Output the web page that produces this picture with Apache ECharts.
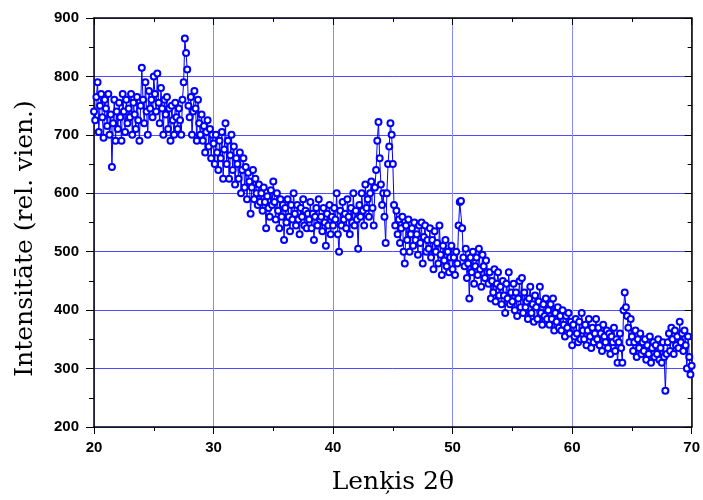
<!DOCTYPE html>
<html>
<head>
<meta charset="utf-8">
<script src="https://cdn.jsdelivr.net/npm/echarts@6/dist/echarts.min.js"></script>
<style>html,body{margin:0;padding:0;background:#fff;}#c{width:703px;height:500px;}</style>
</head>
<body>
<div id="c"></div>
<script>
// 2θ grid of the scan (degrees)
const thetaStart = 20;
const thetaStep = 0.1;
// Intensity, 0.1° apart
const int20to30 = [
 740,725,765,790,705,750,770,730,695,760,
 745,715,770,700,735,645,720,760,690,740,
 710,755,730,690,770,740,705,760,720,745,
 730,770,700,755,735,710,765,725,690,750,
 815,760,720,790,740,700,775,745,760,730,
 800,770,740,805,755,720,780,745,700,760,
 735,765,710,745,690,750,725,700,755,730,
 710,745,725,700,760,790,865,840,812,750,
 730,765,700,740,775,745,690,760,720,700,
 735,690,715,670,705,725,680,710,660,700
];
const int30to40 = [
 685,650,700,670,640,690,660,705,625,675,
 720,650,690,625,665,700,640,680,615,660,
 650,625,670,600,640,660,610,645,590,635,
 620,565,610,640,590,625,600,580,615,585,
 600,570,610,585,540,595,575,560,605,580,
 620,585,555,600,570,540,590,560,580,520,
 575,550,590,560,535,580,555,600,565,545,
 580,555,530,575,560,590,545,570,540,565,
 555,585,540,565,520,560,575,545,590,555,
 560,535,575,550,510,565,545,580,530,560
];
const int40to50 = [
 545,575,555,600,530,500,570,545,585,555,
 565,540,590,560,530,575,550,600,545,570,
 555,505,580,560,600,570,545,615,575,590,
 560,600,620,575,545,610,640,690,722,660,
 615,580,600,560,515,600,650,680,720,700,
 650,580,545,570,530,555,515,540,560,500,
 480,545,520,555,500,530,540,510,550,520,
 530,495,545,515,550,480,525,545,500,520,
 505,540,490,520,470,535,500,515,480,545,
 495,460,510,485,520,475,500,465,490,510
];
const int50to60 = [
 470,490,460,500,480,545,585,587,540,490,
 475,505,455,480,420,490,465,500,445,475,
 490,460,505,470,440,495,475,455,485,465,
 445,465,420,450,430,470,415,445,465,425,
 440,410,450,425,395,445,420,465,410,430,
 415,445,400,430,390,420,450,405,455,395,
 430,405,415,385,420,440,395,410,380,425,
 405,385,415,440,395,375,410,390,420,385,
 400,375,410,385,420,365,395,380,405,370,
 390,365,400,375,355,390,370,395,360,380
];
const int60to70 = [
 340,375,355,385,360,345,380,350,395,365,
 350,375,340,365,385,355,335,370,345,360,
 385,350,370,340,360,330,375,355,345,365,
 335,360,325,355,345,370,330,350,310,345,
 360,335,310,400,430,405,390,370,345,385,
 355,330,345,365,320,350,335,360,325,345,
 330,350,315,340,325,355,310,335,345,320,
 340,325,350,315,335,310,345,320,262,325,
 345,360,330,370,350,325,365,340,355,335,
 380,345,360,330,365,340,300,355,320,290,
 305
];
const xTickMin = 20, xTickMax = 70, xTickStep = 10;
const yTickMin = 200, yTickMax = 900, yTickStep = 100;
const xTitle = 'Lenķis 2θ';
const yTitle = 'Intensitāte (rel. vien.)';

const intensity = [].concat(int20to30, int30to40, int40to50, int50to60, int60to70);
const seriesData = intensity.map((v, i) => [+(thetaStart + i * thetaStep).toFixed(2), v]);

const labelStyle = {color:'#000', fontFamily:'Liberation Sans, Arial, sans-serif', fontWeight:'bold', fontSize:15};
const chart = echarts.init(document.getElementById('c'), null, {renderer:'canvas'});
chart.setOption({
  animation:false,
  backgroundColor:'#fff',
  grid:{left:94, right:9, top:18, bottom:68},
  xAxis:[{
    type:'value', min:xTickMin, max:xTickMax, interval:xTickStep,
    position:'bottom',
    name:xTitle, nameLocation:'middle', nameGap:43,
    nameTextStyle:{fontFamily:'DejaVu Serif, serif', fontSize:25, color:'#000'},
    axisLine:{show:true, onZero:false, lineStyle:{color:'#000', width:1.5}},
    axisTick:{show:true, inside:false, length:7, lineStyle:{color:'#000', width:1}},
    minorTick:{show:true, splitNumber:2, length:4, lineStyle:{color:'#000', width:1}},
    axisLabel:Object.assign({margin:13}, labelStyle),
    splitLine:{show:true, lineStyle:{color:'#8888ff', width:1}}
  },{
    type:'value', min:xTickMin, max:xTickMax, interval:xTickStep,
    position:'top',
    axisLine:{show:true, onZero:false, lineStyle:{color:'#000', width:1.5}},
    axisTick:{show:true, inside:true, length:7, lineStyle:{color:'#000'}},
    minorTick:{show:true, splitNumber:2, length:4, lineStyle:{color:'#000'}},
    axisLabel:{show:false},
    splitLine:{show:false}
  }],
  yAxis:[{
    type:'value', min:yTickMin, max:yTickMax, interval:yTickStep,
    position:'left',
    name:yTitle, nameLocation:'middle', nameGap:56, nameRotate:90,
    nameTextStyle:{fontFamily:'DejaVu Serif, serif', fontSize:25, color:'#000', padding:[0,32,0,0]},
    axisLine:{show:true, onZero:false, lineStyle:{color:'#000', width:1.5}},
    axisTick:{show:true, inside:false, length:8, lineStyle:{color:'#000'}},
    minorTick:{show:true, splitNumber:2, length:5, lineStyle:{color:'#000'}},
    axisLabel:Object.assign({margin:15}, labelStyle),
    splitLine:{show:true, lineStyle:{color:'#4d4dff', width:1}}
  },{
    type:'value', min:yTickMin, max:yTickMax, interval:yTickStep,
    position:'right',
    axisLine:{show:true, onZero:false, lineStyle:{color:'#000', width:1.5}},
    axisTick:{show:true, inside:true, length:7, lineStyle:{color:'#000'}},
    minorTick:{show:true, splitNumber:2, length:4, lineStyle:{color:'#000'}},
    axisLabel:{show:false},
    splitLine:{show:false}
  }],
  series:[{
    type:'line',
    data:seriesData,
    xAxisIndex:0, yAxisIndex:0,
    symbol:'emptyCircle', symbolSize:6, showAllSymbol:true,
    lineStyle:{color:'#0000ff', width:1},
    itemStyle:{color:'#0000ff', borderWidth:1},
    clip:true
  }]
});
</script>
</body>
</html>
